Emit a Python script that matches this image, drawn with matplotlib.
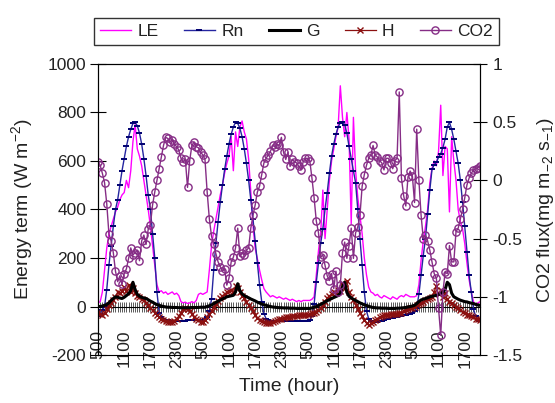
import numpy as np
import matplotlib
matplotlib.use('Agg')
import matplotlib.pyplot as plt

plt.rcParams['font.family'] = ['Liberation Sans', 'DejaVu Sans']
plt.rcParams['mathtext.fontset'] = 'custom'
plt.rcParams['mathtext.rm'] = 'Liberation Sans'
plt.rcParams['mathtext.it'] = 'Liberation Sans:italic'
plt.rcParams['axes.unicode_minus'] = False

# half-hourly readings from 05:00 on day 1 to 20:30 on day 4, one row = 6 hours
rn = [-40, -30, -15, 0, 70, 170, 250, 330, 400, 440, 500, 560,
      610, 660, 700, 730, 755, 760, 745, 715, 670, 610, 540, 460,
      400, 300, 200, 60, -25, -45, -52, -55, -57, -58, -58, -60,
      -60, -60, -60, -58, -58, -57, -57, -56, -56, -55, -55, -55,
      -54, -52, -45, -20, 30, 150, 260, 350, 430, 500, 565, 620,
      670, 710, 740, 760, 755, 735, 700, 650, 590, 520, 440, 360,
      270, 180, 90, 20, -30, -50, -56, -58, -60, -60, -60, -60,
      -60, -60, -60, -60, -59, -59, -59, -58, -58, -58, -58, -58,
      -58, -55, -40, 10, 100, 180, 260, 320, 400, 470, 550, 620,
      670, 710, 740, 758, 762, 750, 715, 660, 610, 560, 510, 400,
      280, 170, 60, -20, -50, -58, -62, -63, -62, -60, -58, -56,
      -53, -50, -48, -46, -44, -42, -40, -38, -36, -34, -32, -30,
      -28, -20, -5, 50, 130, 210, 280, 380, 480, 565, 585, 595,
      615, 630, 655, 690, 740, 760, 730, 690, 640, 590, 520, 430,
      330, 225, 130, 60, -10, -40, -55, -60]

le = [15, 20, 60, 150, 240, 300, 330, 360, 390, 410, 440, 460,
      470, 520, 490, 560, 680, 750, 650, 620, 580, 520, 460, 400,
      330, 250, 170, 90, 60, 65, 55, 60, 50, 55, 60, 50,
      55, 45, 20, 15, 18, 12, 15, 20, 15, 25, 50, 55,
      50, 55, 60, 150, 250, 310, 360, 410, 460, 500, 550, 590,
      620, 700, 560, 720, 660, 740, 765, 720, 690, 608, 471, 334,
      240, 197, 150, 110, 74, 60, 50, 40, 45, 40, 35, 40,
      35, 30, 35, 30, 25, 30, 25, 20, 25, 20, 25, 25,
      25, 25, 30, 40, 130, 230, 300, 480, 280, 400, 520, 600,
      650, 700, 740, 910, 780, 700, 800, 690, 340, 780, 560, 450,
      375, 300, 200, 130, 80, 60, 55, 45, 50, 40, 35, 45,
      40, 35, 30, 40, 35, 30, 40, 45, 40, 50, 45, 40,
      40, 40, 45, 90, 190, 270, 330, 400, 510, 570, 600, 580,
      640, 830, 540, 660, 650, 390, 700, 600, 520, 400, 350, 320,
      260, 180, 110, 60, 20, 5, 15, 20]

g = [0, 0, 2, 5, 8, 15, 25, 33, 40, 38, 35, 33,
     38, 45, 53, 65, 100, 70, 50, 42, 38, 35, 33, 28,
     22, 18, 12, 8, 5, 2, 0, -2, -3, -3, -4, -4,
     -4, -5, -5, -5, -5, -5, -5, -4, -4, -4, -4, -3,
     -3, -3, 0, 3, 6, 12, 17, 22, 26, 31, 35, 40,
     42, 44, 46, 60, 94, 65, 52, 45, 40, 36, 31, 27,
     23, 18, 14, 10, 7, 5, 2, 0, -2, -3, -4, -5,
     -5, -6, -6, -6, -7, -7, -7, -8, -8, -8, -8, -8,
     -8, -8, -6, -3, 0, 5, 9, 14, 19, 24, 28, 33,
     37, 41, 45, 55, 80, 100, 58, 42, 35, 30, 25, 20,
     15, 11, 7, 4, 1, -2, -4, -5, -6, -6, -7, -7,
     -7, -8, -8, -8, -8, -7, -7, -6, -5, -4, -2, 0,
     2, 5, 12, 20, 27, 30, 33, 36, 40, 42, 44, 46,
     50, 54, 58, 70, 100, 90, 55, 40, 35, 30, 26, 23,
     20, 19, 16, 14, 12, 9, 6, 5]

h = [-22, -30, -36, -25, -10, 5, 15, 28, 38, 60, 55, 62,
     80, 65, 90, 60, 75, 55, 45, 40, 30, 26, 15, 5,
     -8, -15, -25, -36, -42, -50, -56, -60, -62, -65, -63, -58,
     -50, -40, -25, -10, -5, -12, -20, -30, -42, -50, -56, -62,
     -63, -55, -45, -30, -20, 0, 10, 22, 35, 45, 50, 60,
     65, 70, 60, 85, 75, 60, 45, 33, 20, 5, -8, -20,
     -35, -49, -55, -60, -63, -66, -70, -70, -65, -60, -56, -52,
     -50, -48, -45, -44, -42, -40, -40, -38, -36, -36, -36, -35,
     -34, -30, -28, -25, -22, -15, -5, 5, 20, 35, 45, 50,
     60, 55, 70, 65, 95, 75, 105, 60, 40, 25, 5, -10,
     -25, -40, -55, -70, -78, -70, -62, -55, -50, -45, -40, -36,
     -35, -33, -32, -30, -30, -29, -28, -25, -20, -15, -10, -8,
     -5, 0, 5, 10, 15, 19, 25, 30, 33, 40, 60, 85,
     50, 70, 40, 55, 30, 20, 15, 5, 0, -8, -15, -22,
     -28, -33, -36, -40, -45, -50, -52, -55]

co2 = [0.16, 0.13, 0.06, -0.02, -0.20, -0.46, -0.52, -0.62, -0.78, -0.87, -0.82, -0.89,
       -0.80, -0.76, -0.67, -0.58, -0.64, -0.62, -0.60, -0.69, -0.52, -0.47, -0.55, -0.42,
       -0.38, -0.21, -0.10, 0.00, 0.10, 0.20, 0.30, 0.37, 0.36, 0.33, 0.35, 0.31,
       0.29, 0.26, 0.19, 0.16, 0.18, -0.06, 0.17, 0.30, 0.33, 0.29, 0.28, 0.24,
       0.22, 0.18, -0.10, -0.33, -0.48, -0.55, -0.63, -0.70, -0.74, -0.78, -0.76, -0.90,
       -0.84, -0.70, -0.66, -0.58, -0.41, -0.65, -0.62, -0.64, -0.60, -0.58, -0.41, -0.30,
       -0.21, -0.10, -0.05, 0.05, 0.15, 0.19, 0.22, 0.25, 0.30, 0.29, 0.31, 0.30,
       0.37, 0.24, 0.18, 0.24, 0.12, 0.18, 0.16, 0.15, 0.12, 0.09, 0.16, 0.19,
       0.19, 0.17, 0.02, -0.15, -0.35, -0.45, -0.66, -0.64, -0.73, -0.82, -0.86, -0.80,
       -0.93, -0.78, -0.96, -0.90, -0.62, -0.53, -0.67, -0.56, -0.41, -0.67, -0.45, -0.40,
       -0.30, -0.05, 0.05, 0.13, 0.19, 0.22, 0.30, 0.22, 0.20, 0.17, 0.15, 0.09,
       0.19, 0.19, 0.15, 0.10, 0.17, 0.19, 0.76, 0.02, -0.13, -0.22, 0.03, 0.08,
       0.04, -0.19, 0.44, 0.00, -0.30, -0.50, -0.47, -0.52, -0.60, -0.70, -0.80, -0.84,
       -1.10, -1.33, -0.96, -0.79, -0.80, -0.56, -0.70, -0.70, -0.44, -0.41, -0.33, -0.25,
       -0.15, -0.04, 0.02, 0.06, 0.09, 0.10, 0.11, 0.12]

hour_labels = ['500', '1100', '1700', '2300'] * 3 + ['500', '1100', '1700']
co2_ticks = [-1.5, -1, -0.5, 0, 0.5, 1]
co2_tick_labels = ['-1.5', '-1', '-0.5', '0', '0.5', '1']

x = np.arange(len(rn))
txt = '#222222'

fig = plt.figure(figsize=(5.55, 4.03), dpi=100)
ax = fig.add_axes([0.1766, 0.1191, 0.6883, 0.7221])

ax.plot(x, le, color='#ff00ff', lw=1.0, label='LE', zorder=3)
ax.plot(x, rn, color='#2525a0', lw=1.0, marker='_', ms=4, mew=1.4,
        mec='#000070', label='Rn', zorder=4)
ax.plot(x, g, color='black', lw=2.2, label='G', zorder=5)
ax.plot(x, h, color='#8b1010', lw=0.9, marker='x', ms=4.5, mew=1.0,
        label='H', zorder=4)

ax.set_xlim(0, len(rn) - 1)
ax.set_ylim(-200, 1000)
ax.set_yticks(range(-200, 1001, 200))

# category axis crosses at zero, a tick at every half hour
ax.spines['bottom'].set_position(('data', 0))
ax.spines['bottom'].set_linewidth(0.8)
ax.set_xticks(x[::12])
ax.set_xticklabels(hour_labels, rotation=90)
ax.set_xticks(x, minor=True)
ax.tick_params(axis='x', which='both', direction='inout', length=7.5,
               width=0.6, color='0.25')
ax.tick_params(axis='x', which='major', pad=13, labelsize=12.5, labelcolor=txt)
ax.tick_params(axis='y', direction='inout', length=11, width=0.8, pad=3,
               labelsize=12.5, labelcolor=txt)

ax2 = ax.twinx()
ax2.plot(x, co2, color='#862d86', lw=1.0, marker='o', ms=5.2, mfc='none',
         mew=1.0, label='CO2')
ax2.set_ylim(-1.5, 1)
ax2.set_yticks(co2_ticks)
ax2.set_yticklabels(co2_tick_labels)
ax2.tick_params(axis='y', direction='inout', length=9.5, width=0.8, pad=4,
                labelsize=12.5, labelcolor=txt)

ax.set_ylabel('Energy term (W m$\\mathregular{^{-2}}$)', fontsize=14, color=txt)
ax.yaxis.set_label_coords(-0.165, 0.5)
ax2.set_ylabel('CO2 flux(mg m$\\mathregular{_{-2}}$ s$\\mathregular{_{-1}}$)',
               fontsize=14, color=txt)
ax2.yaxis.set_label_coords(1.145, 0.5)
ax.set_xlabel('Time (hour)', fontsize=14, color=txt)
ax.xaxis.set_label_coords(0.5, -0.08)

handles = ax.get_lines() + ax2.get_lines()
leg = fig.legend(handles, [l.get_label() for l in handles], loc='center',
                 bbox_to_anchor=(0.534, 0.922), ncol=5, fontsize=12.5,
                 frameon=True, fancybox=False, edgecolor='black',
                 handlelength=1.8, handletextpad=0.35, columnspacing=1.45,
                 numpoints=1, borderpad=0.35)
leg.get_frame().set_linewidth(1.0)
for t in leg.get_texts():
    t.set_color(txt)

fig.savefig('out.png', dpi=100)
